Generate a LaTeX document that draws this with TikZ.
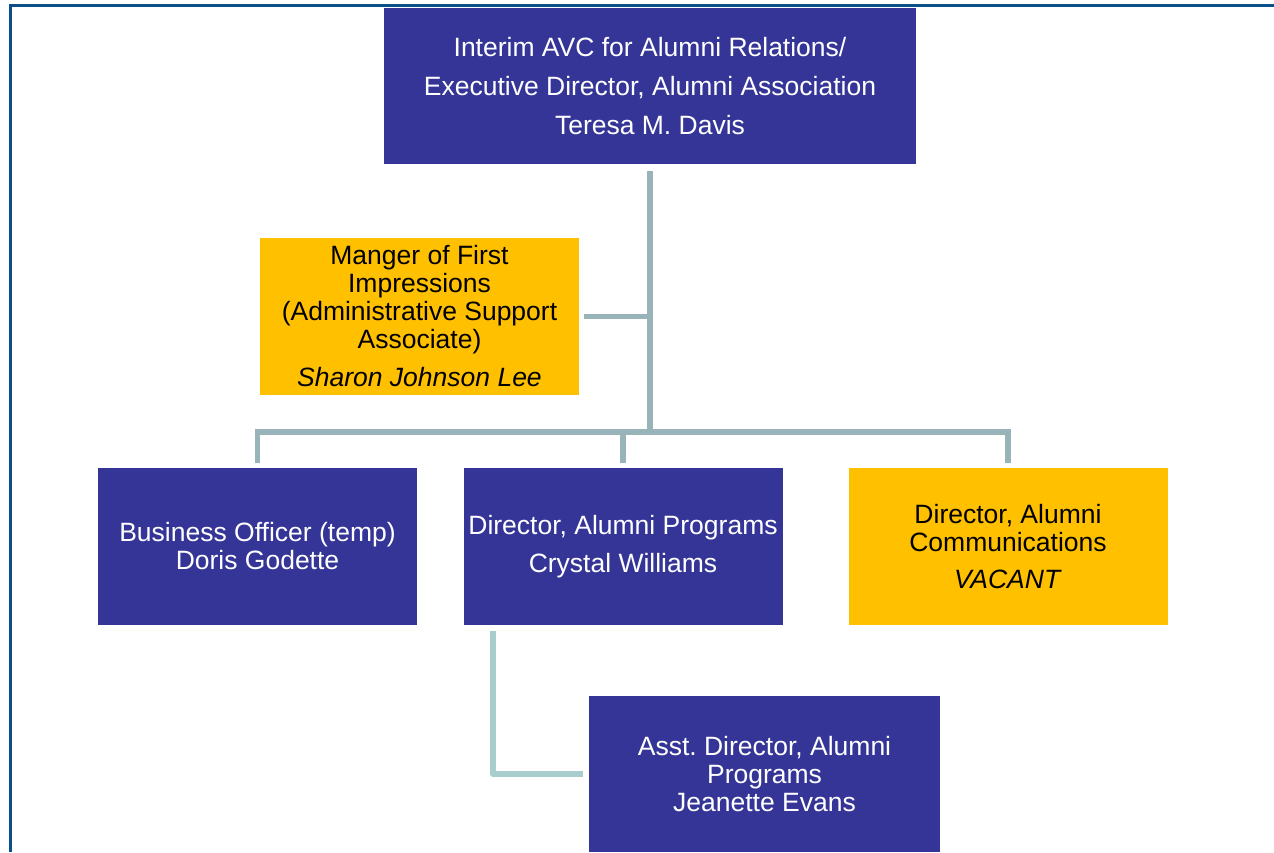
\documentclass[tikz,border=0pt]{standalone}
\usepackage{fontspec}
\setmainfont{Liberation Sans}
\frenchspacing
\definecolor{boxblue}{HTML}{353598}
\definecolor{boxgold}{HTML}{FFC000}
\definecolor{linkgray}{HTML}{98B4B9}
\definecolor{linkpale}{HTML}{A9CCCC}
\definecolor{frameblue}{HTML}{0B4F8A}
\begin{document}
\begin{tikzpicture}[x=1pt,y=-1pt,
  bluebox/.style={fill=boxblue,text=white,shape=rectangle,inner sep=0pt,minimum width=319pt,minimum height=157pt,align=center,font=\fontsize{26.5}{28}\selectfont},
  goldbox/.style={bluebox,fill=boxgold,text=black},
  link/.style={draw=linkgray,line width=5.5pt}]
\useasboundingbox (0,0) rectangle (1274,852);
\draw[frameblue,line width=3pt] (10,852) -- (10,5) -- (1274,5);

\node[bluebox,minimum width=532pt,minimum height=156pt](avc) at (650,86){Interim AVC for Alumni Relations/\\[11pt]Executive Director, Alumni Association\\[11pt]Teresa M. Davis};
\node[goldbox](mgr) at (419.5,316.5){Manger of First\\Impressions\\(Administrative Support\\Associate)\\[10pt]\textit{Sharon Johnson Lee}};
\coordinate (hub) at (650,432);

\node[bluebox](bus) at (257.5,546.5){Business Officer (temp)\\Doris Godette};
\node[bluebox](prog) at (623,546.5){Director, Alumni Programs\\[10pt]Crystal Williams};
\node[goldbox](comm) at (1008,546.5){Director, Alumni\\Communications\\[9pt]\textit{VACANT}};
\node[bluebox,minimum width=351pt,minimum height=156pt](asst) at (764.5,774){Asst. Director, Alumni\\Programs\\Jeanette Evans};

\draw[link,shorten <=7pt] (avc.south) -- (hub);
\draw[link,shorten <=5pt] (mgr.east) -- (mgr.east -| hub);
\draw[link,shorten >=5pt] (hub) -| (bus.north);
\draw[link,shorten >=5pt] (hub) -| (prog.north);
\draw[link,shorten >=5pt] (hub) -| (comm.north);
\draw[link,draw=linkpale,line join=round,shorten <=6pt,shorten >=6pt] ([xshift=-130pt]prog.south) |- (asst.west);
\end{tikzpicture}
\end{document}
